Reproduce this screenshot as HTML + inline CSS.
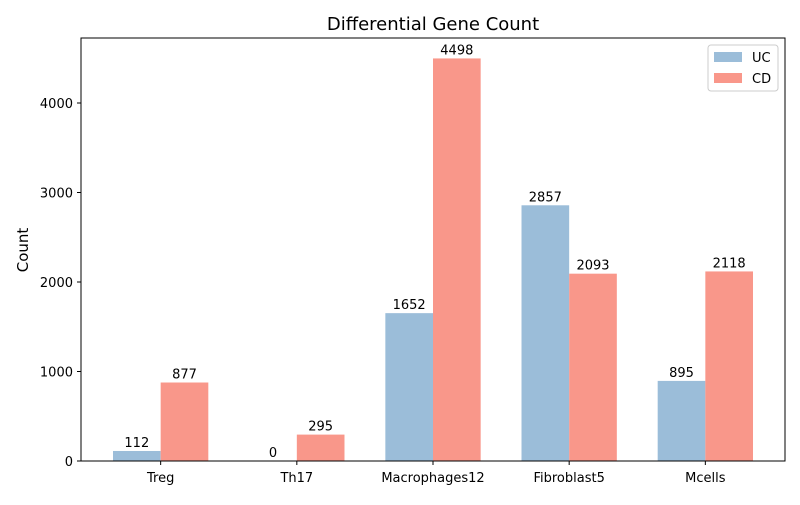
<!DOCTYPE html>
<html><head><meta charset="utf-8"><style>
body{margin:0;background:#fff;font-family:"Liberation Sans","DejaVu Sans",sans-serif;}
svg text{font-family:"DejaVu Sans","Liberation Sans",sans-serif;}
</style></head><body>
<svg id="chart" width="800" height="500" xmlns="http://www.w3.org/2000/svg">
<rect width="800" height="500" fill="#fff"/>
<text x="433" y="30" font-size="18" text-anchor="middle" fill="#000">Differential Gene Count</text>
<text transform="translate(28,250) rotate(-90)" font-size="15" text-anchor="middle" fill="#000">Count</text>
<g id="bars"></g><g id="axes"></g>
<rect x="81" y="38" width="704" height="423" fill="none" stroke="#000" stroke-width="1"/>
<g>
<rect x="708" y="45" width="70" height="46" rx="3" fill="#fff" stroke="#ccc"/>
<g><rect x="714" y="52" width="28" height="10" fill="#9bbdd9"/><text x="752" y="62" font-size="13">UC</text></g>
<g><rect x="714" y="73" width="28" height="10" fill="#f9978a"/><text x="752" y="83" font-size="13">CD</text></g>
</g>
</svg>
<script>
const categories=["Treg","Th17","Macrophages12","Fibroblast5","Mcells"];
const ucValues=[112,0,1652,2857,895];
const cdValues=[877,295,4498,2093,2118];
const yTicks=[0,1000,2000,3000,4000];
const NS="http://www.w3.org/2000/svg";
const x0=81,x1=785,yB=461,yT=38;
const xmin=-0.585,xmax=4.585,bw=0.35;
function xs(v){return x0+(v-xmin)/(xmax-xmin)*(x1-x0);}
function ys(v){return yB-v*(461-103)/4000;}
function mk(t,a,p){const e=document.createElementNS(NS,t);for(const k in a)e.setAttribute(k,a[k]);p.appendChild(e);return e;}
const bars=document.getElementById('bars'),axes=document.getElementById('axes');
categories.forEach((c,i)=>{
 [[ucValues[i],-1,"#9bbdd9","uc"],[cdValues[i],0,"#f9978a","cd"]].forEach(([v,off,col,s])=>{
  const xl=xs(i+off*bw),xr=xs(i+(off+1)*bw);
  const r=mk('rect',{x:xl,y:ys(v),width:xr-xl,height:yB-ys(v),fill:col},bars);
  
  
  const t=mk('text',{x:(xl+xr)/2,y:ys(v)-4,'font-size':13,'text-anchor':'middle'},bars);
  t.textContent=v;
  
  
 });
 const cx=xs(i);
 mk('line',{x1:cx,x2:cx,y1:yB,y2:yB+4,stroke:'#000'},axes);
 const tl=mk('text',{x:cx,y:yB+21,'font-size':13,'text-anchor':'middle'},axes);
 tl.textContent=c;
 
 
});
yTicks.forEach(v=>{
 const y=ys(v);
 mk('line',{x1:x0-4,x2:x0,y1:y,y2:y,stroke:'#000'},axes);
 const t=mk('text',{x:x0-8,y:y+5,'font-size':13,'text-anchor':'end'},axes);
 t.textContent=v;
 
 
});
</script>
</body></html>
